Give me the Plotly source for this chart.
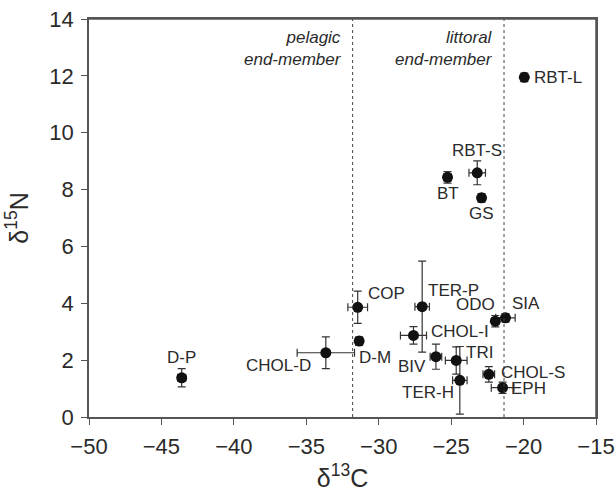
import plotly.graph_objects as go

# ---- data ----
labels = ["D-P", "CHOL-D", "COP", "D-M", "TER-P", "CHOL-I", "BIV", "TRI", "TER-H",
          "ODO", "SIA", "CHOL-S", "EPH", "BT", "RBT-S", "GS", "RBT-L"]
d13C = [-43.6, -33.65, -31.45, -31.35, -27.0, -27.6, -26.05, -24.65, -24.4,
        -21.95, -21.25, -22.4, -21.45, -25.25, -23.2, -22.9, -19.95]
d15N = [1.38, 2.26, 3.86, 2.67, 3.88, 2.87, 2.12, 1.99, 1.29,
        3.37, 3.49, 1.50, 1.03, 8.43, 8.59, 7.71, 11.95]
err_C = [0.28, 1.98, 0.68, 0.15, 0.5, 0.9, 0.4, 0.75, 0.5,
         0.25, 0.67, 0.4, 0.78, 0.25, 0.57, 0.2, 0.2]
err_N = [0.32, 0.56, 0.57, 0.15, 1.6, 0.31, 0.44, 0.48, 1.19,
         0.2, 0.15, 0.27, 0.2, 0.2, 0.42, 0.15, 0.15]
end_members = [-31.8, -21.35]
end_member_names = ["pelagic<br>end-member", "littoral<br>end-member"]

# ---- label placement (style) ----
label_style = {
    "D-P": ("center", 0, 20), "CHOL-D": ("right", -13, -13), "COP": ("left", 8, 14),
    "D-M": ("left", -2, -16), "TER-P": ("left", 4, 16), "CHOL-I": ("left", 16, 4),
    "BIV": ("right", -8, -10), "TRI": ("left", 8, 8), "TER-H": ("right", -4, -12),
    "ODO": ("right", 2, 17), "SIA": ("left", 5, 14), "CHOL-S": ("left", 10, 2),
    "EPH": ("left", 6, -1), "BT": ("center", 0, -16), "RBT-S": ("center", 0, 22),
    "GS": ("center", 0, -16), "RBT-L": ("left", 8, 0),
}

FONT = "Liberation Sans, Arial, sans-serif"
TXT = "#2a2a2a"
AX = "#555555"

fig = go.Figure()
fig.add_trace(go.Scatter(
    x=d13C, y=d15N, mode="markers",
    marker=dict(color="#111111", size=11),
    error_x=dict(type="data", array=err_C, color="#333333", thickness=1.2, width=4),
    error_y=dict(type="data", array=err_N, color="#333333", thickness=1.2, width=4),
    showlegend=False, hoverinfo="skip",
))

for xv in end_members:
    fig.add_shape(type="line", x0=xv, x1=xv, y0=0, y1=1, xref="x", yref="paper",
                  line=dict(color="#444444", width=1, dash="dot"))

# plot frame (top and right sides)
fig.add_shape(type="line", x0=-50, x1=-15, y0=14, y1=14, xref="x", yref="y",
              line=dict(color=AX, width=1.5), layer="above")
fig.add_shape(type="line", x0=-15, x1=-15, y0=0, y1=14, xref="x", yref="y",
              line=dict(color=AX, width=1.5), layer="above")

for xv, name in zip(end_members, end_member_names):
    fig.add_annotation(x=xv, y=1, xref="x", yref="paper", text="<i>" + name + "</i>",
                       xanchor="right", yanchor="top", align="right", showarrow=False,
                       xshift=-9, yshift=-7, font=dict(family=FONT, size=17, color=TXT))

for lab, xv, yv in zip(labels, d13C, d15N):
    anc, dx, dy = label_style[lab]
    fig.add_annotation(x=xv, y=yv, text=lab, showarrow=False, xanchor=anc, yanchor="middle",
                       xshift=dx, yshift=dy, font=dict(family=FONT, size=17, color=TXT))

axis_common = dict(showline=True, linecolor=AX, linewidth=1.5, mirror=True,
                   ticks="outside", ticklen=6, tickcolor=AX, tickwidth=1.2,
                   showgrid=False, zeroline=False, automargin=False,
                   ticklabeloverflow="allow", ticklabelstandoff=3,
                   tickfont=dict(family=FONT, size=22, color=TXT))

fig.update_layout(
    width=615, height=492,
    margin=dict(l=89, r=19, t=19, b=75),
    plot_bgcolor="white", paper_bgcolor="white",
    xaxis=dict(range=[-50, -15], dtick=5, tick0=-50,
               title=dict(text="δ<sup>13</sup>C", standoff=12,
                          font=dict(family=FONT, size=25, color=TXT)),
               **axis_common),
    yaxis=dict(range=[0, 14], dtick=2, tick0=0,
               title=dict(text="δ<sup>15</sup>N", standoff=14,
                          font=dict(family=FONT, size=25, color=TXT)),
               **axis_common),
)

fig.write_html("out.html", config={"displayModeBar": False},
               post_script="document.body.style.margin='0';")
